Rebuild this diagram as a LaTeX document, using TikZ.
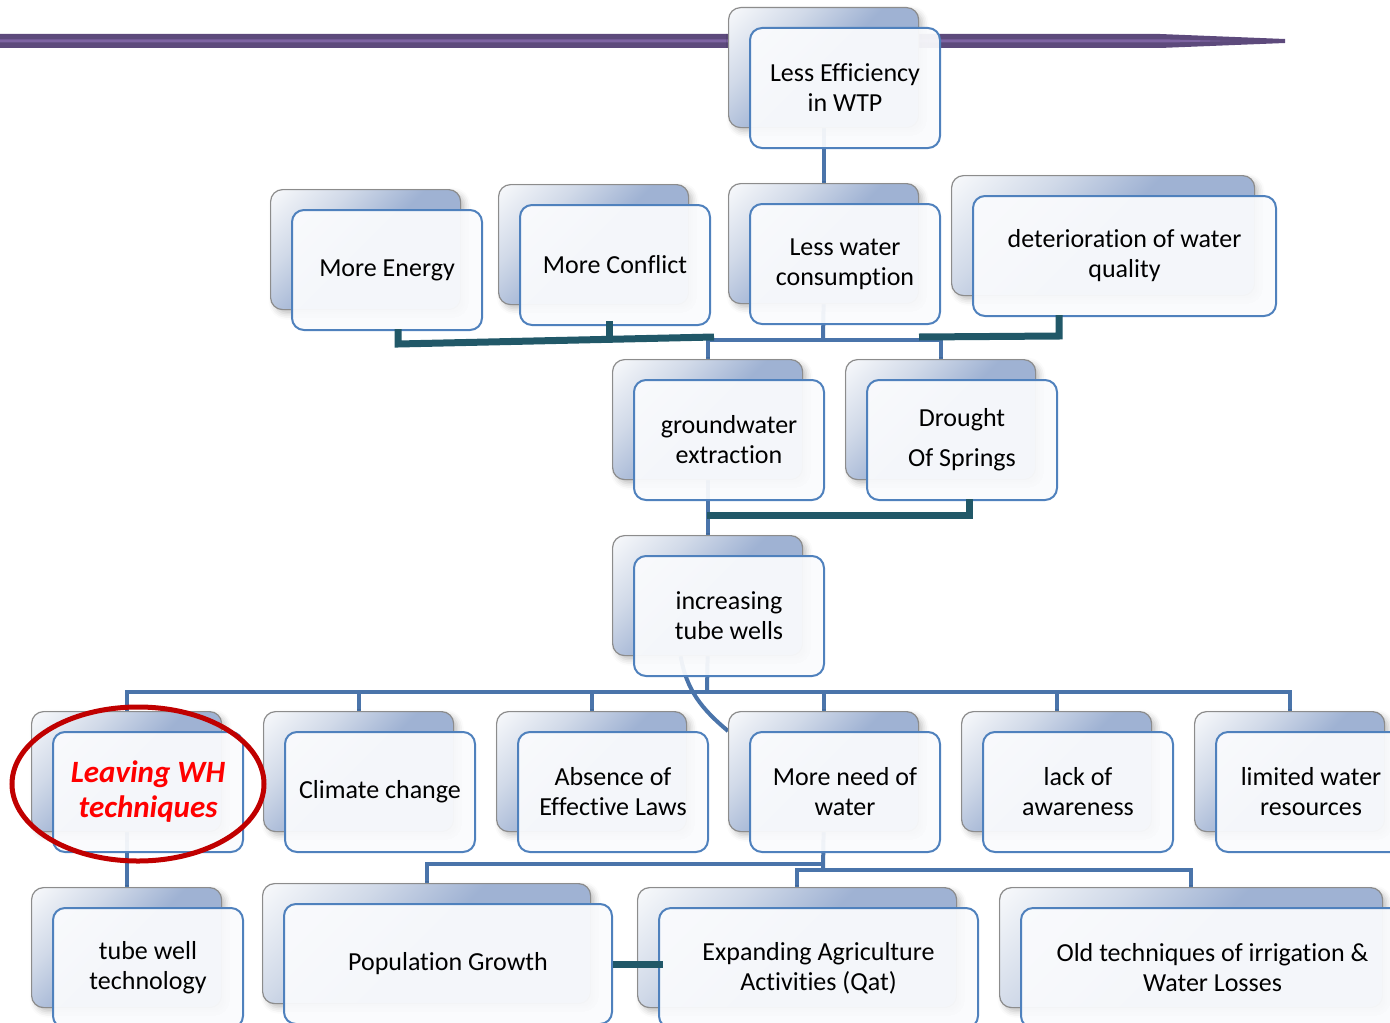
\documentclass[tikz,border=0pt]{standalone}
\usepackage{fontspec}
\setmainfont{Carlito}[Ligatures=NoCommon]
\usetikzlibrary{shadows.blur}

\definecolor{linkblue}{HTML}{4A74AA}
\definecolor{boxblue}{HTML}{4F81BD}
\definecolor{boxgray}{HTML}{8C8C8C}
\definecolor{bkA}{HTML}{F5F7FA}
\definecolor{bkB}{HTML}{D0D9E8}
\definecolor{bkC}{HTML}{9FB2D3}
\definecolor{frontfill}{HTML}{FAFBFD}
\definecolor{tealdark}{HTML}{215868}
\definecolor{barpurple}{HTML}{5D4A7C}
\definecolor{barlight}{HTML}{7E64A3}
\definecolor{ringred}{HTML}{C00000}

\pgfdeclarehorizontalshading{backshade}{100bp}{color(0bp)=(bkA); color(16bp)=(bkA); color(33bp)=(bkB); color(50bp)=(bkC); color(100bp)=(bkC)}

\pgfdeclarelayer{background}
\pgfsetlayers{background,main}

\begin{document}
\begin{tikzpicture}[x=0.5pt, y=-0.5pt,
prob_b/.style = {rectangle, rounded corners=6pt, draw=boxgray, line width=0.6pt, shade, shading=backshade, shading angle=-45, minimum width=95pt, minimum height=60pt, inner sep=0pt, anchor=north west,
  blur shadow={shadow xshift=2pt, shadow yshift=-2pt, shadow opacity=25, shadow blur radius=3pt}},
prob_f/.style = {rectangle, rounded corners=6pt, draw=boxblue, line width=1pt, fill=frontfill, fill opacity=0.94, text opacity=1, minimum width=95pt, minimum height=60pt, anchor=north west, align=center, font=\fontsize{13}{15}\selectfont},
link_b/.style = {draw=linkblue, line width=2pt},
link_t/.style = {draw=tealdark, line width=3.5pt}
]
\useasboundingbox (0,0) rectangle (1390,1022);

% effects
\node (effB) [prob_b] at (728,7) {};
\node (effF) [prob_f] at ([shift={(21,20)}]effB.north west) {Less Efficiency\\in WTP};

\node (nrgB) [prob_b] at (270,189) {};
\node (nrgF) [prob_f] at ([shift={(21,20)}]nrgB.north west) {More Energy};
\node (conB) [prob_b] at (498,184) {};
\node (conF) [prob_f] at ([shift={(21,20)}]conB.north west) {More Conflict};
\node (useB) [prob_b] at (728,183) {};
\node (useF) [prob_f] at ([shift={(21,20)}]useB.north west) {Less water\\consumption};
\node (qualB) [prob_b, minimum width=151.5pt] at (951,175) {};
\node (qualF) [prob_f, minimum width=151.5pt] at ([shift={(21,20)}]qualB.north west) {deterioration of water\\quality};

% core problem
\node (gwB) [prob_b] at (612,359) {};
\node (gwF) [prob_f] at ([shift={(21,20)}]gwB.north west) {groundwater\\extraction};
\node (droB) [prob_b] at (845,359) {};
\node (droF) [prob_f] at ([shift={(21,20)}]droB.north west) {Drought\\[5pt]Of Springs};
\node (tubeB) [prob_b] at (612,535) {};
\node (tubeF) [prob_f] at ([shift={(21,20)}]tubeB.north west) {increasing\\tube wells};

% causes
\node (whB) [prob_b] at (31,711) {};
\node (whF) [prob_f, text=red, font=\fontsize{15.5}{17.5}\selectfont\bfseries\itshape] at ([shift={(21,20)}]whB.north west) {Leaving WH\\techniques};
\node (climB) [prob_b] at (263,711) {};
\node (climF) [prob_f] at ([shift={(21,20)}]climB.north west) {Climate change};
\node (lawB) [prob_b] at (496,711) {};
\node (lawF) [prob_f] at ([shift={(21,20)}]lawB.north west) {Absence of\\Effective Laws};
\node (needB) [prob_b] at (728,711) {};
\node (needF) [prob_f] at ([shift={(21,20)}]needB.north west) {More need of\\water};
\node (awareB) [prob_b] at (961,711) {};
\node (awareF) [prob_f] at ([shift={(21,20)}]awareB.north west) {lack of\\awareness};
\node (limB) [prob_b] at (1194,711) {};
\node (limF) [prob_f] at ([shift={(21,20)}]limB.north west) {limited water\\resources};

% root causes
\node (techB) [prob_b] at (31,887) {};
\node (techF) [prob_f] at ([shift={(21,20)}]techB.north west) {tube well\\technology};
\node (popB) [prob_b, minimum width=164pt] at (262,883) {};
\node (popF) [prob_f, minimum width=164pt] at ([shift={(21,20)}]popB.north west) {Population Growth};
\node (agrB) [prob_b, minimum width=159.5pt] at (637,887) {};
\node (agrF) [prob_f, minimum width=159.5pt] at ([shift={(21,20)}]agrB.north west) {Expanding Agriculture\\Activities (Qat)};
\node (oldB) [prob_b, minimum width=191.5pt] at (999,887) {};
\node (oldF) [prob_f, minimum width=191.5pt] at ([shift={(21,20)}]oldB.north west) {Old techniques of irrigation \&\\Water Losses};

\begin{pgfonlayer}{background}
% purple rule
\fill[barpurple] (0,34) -- (1160,34) -- (1285,39) -- (1285,43) -- (1160,48) -- (0,48) -- cycle;
\fill[barlight] (0,39.5) -- (1170,39.5) -- (1230,41) -- (1170,42.5) -- (0,42.5) -- cycle;

\coordinate (j1) at (823,340);
\coordinate (j2) at (707,692);
\coordinate (j3) at (823,864);
\coordinate (j4) at (823,870);
\draw[link_b] (effB.south) -- (useB.north);
\draw[link_b] (useB.south) -- (j1);
\draw[link_b] (gwB.north) |- (j1) -| (droB.north);
\draw[link_b] (gwB.south) -- (tubeB.north);
\draw[link_b] (tubeB.south) -- (j2);
\draw[link_b] (whB.north) |- (j2) -| (limB.north);
\foreach \n in {climB,lawB,needB,awareB}
  \draw[link_b] (\n.north) -- (\n.north |- j2);
\draw[link_b] ([xshift=-13.5pt]tubeB.south) to[out=-80,in=140] ([yshift=-10pt]needB.north west);
\draw[link_b] (whB.south) -- (techB.north);
\draw[link_b] (needB.south) -- (j4);
\draw[link_b] (popB.north) |- (j3);
\draw[link_b] (agrB.north) |- (j4) -| (oldB.north);
\end{pgfonlayer}

% hand drawn ties
\coordinate (t1) at (714,337);
\coordinate (t2) at (919,337);
\coordinate (t3) at (707,515);
\draw[link_t] ([shift={(11,-2)}]nrgF.south) -- ++(0,15) -- (t1);
\draw[link_t] ([shift={(-6,-5)}]conF.south) -- ++(0,19);
\draw[link_t] ([shift={(-65.5,-2)}]qualF.south) -- ++(0,21) -- (t2);
\draw[link_t] ([shift={(7,-2)}]droF.south) |- (t3);
\draw[link_t] (popF.east) -- ++(50,0);

%\draw[red] (whF) circle (60pt);
\draw[ringred, line width=2.5pt] (138,784) ellipse [x radius=126, y radius=77];
\end{tikzpicture}
\end{document}
